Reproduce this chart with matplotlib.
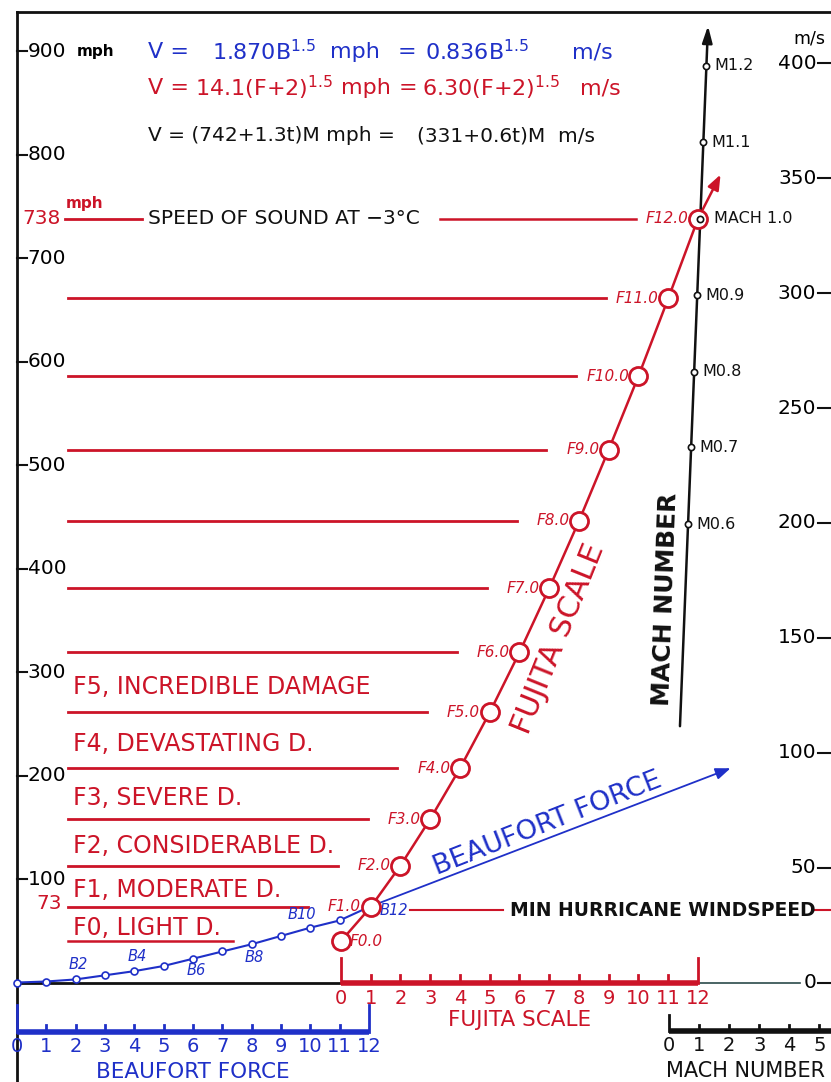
import numpy as np
import matplotlib.pyplot as plt

plt.rcParams['font.family'] = ['DejaVu Sans']

RED = '#cc1428'
BLUE = '#1f30c8'
BLACK = '#111111'

# Fujita-Skala: Stufe -> Windgeschwindigkeit in mph
F_LEVELS = list(range(13))
F_MPH = [40, 73, 113, 158, 207, 261, 319, 381, 446, 515, 586, 661, 738]

# Beaufort-Skala
B_LEVELS = list(range(13))
B_MPH = [0, 1, 3, 7, 11, 16, 23, 30, 37, 45, 53, 60, 73]
B_LABELED = [2, 4, 6, 8, 10, 12]

# Machzahl
MACH = [0.6, 0.7, 0.8, 0.9, 1.0, 1.1, 1.2]
MACH_MPH = [443, 517, 590, 664, 738, 812, 886]
MACH_LABELS = ['M0.6', 'M0.7', 'M0.8', 'M0.9', 'MACH 1.0', 'M1.1', 'M1.2']
MACH_BOTTOM = [0, 1, 2, 3, 4, 5]

# Achsen
MPH_TICKS = [100, 200, 300, 400, 500, 600, 700, 800, 900]
MS_TICKS = [0, 50, 100, 150, 200, 250, 300, 350, 400]
MS_TO_MPH = 2.22

DAMAGE = ['F0, LIGHT D.', 'F1, MODERATE D.', 'F2, CONSIDERABLE D.',
          'F3, SEVERE D.', 'F4, DEVASTATING D.', 'F5, INCREDIBLE DAMAGE']

fig = plt.figure(figsize=(8.31, 10.82), dpi=100)
ax = fig.add_axes([0, 0, 1, 1])
ax.set_xlim(-11.46, 16.47)
ax.set_ylim(-96.1, 949.3)
ax.axis('off')

X_LEFT = -10.89
X_RIGHT = 16.47
Y_TOP = 937.7


def bx(b):
    # Beaufort-Stufe auf die gemeinsame x-Achse
    return X_LEFT + np.asarray(b) * 0.986


def mx(m):
    # Machzahl (untere Skala) auf die gemeinsame x-Achse
    return 11.03 + np.asarray(m) * 1.01


# Rahmen
ax.plot([X_LEFT, X_LEFT], [-96.1, Y_TOP], color=BLACK, lw=2)
ax.plot([X_LEFT, X_RIGHT], [Y_TOP, Y_TOP], color=BLACK, lw=2)

# linke mph-Achse
for v in MPH_TICKS:
    ax.plot([X_LEFT, X_LEFT + 0.33], [v, v], color=BLACK, lw=1.5)
    ax.text(X_LEFT + 0.36, v, str(v), fontsize=14.5, va='center', ha='left')
ax.text(X_LEFT + 2.0, 900, 'mph', fontsize=11, fontweight='bold', va='center', ha='left')

# rechte m/s-Achse
for v in MS_TICKS:
    y = v * MS_TO_MPH
    ax.plot([16.03, X_RIGHT], [y, y], color=BLACK, lw=1.5)
    ax.text(15.98, y, str(v), fontsize=14.5, va='center', ha='right')
ax.text(15.75, 912, 'm/s', fontsize=12.5, va='center', ha='center')

# Formeln
fs = 16
ax.text(-6.49, 899, 'V =', color=BLUE, fontsize=fs, va='center', ha='left')
ax.text(-4.34, 899, r'1.870B$^{1.5}$', color=BLUE, fontsize=fs, va='center', ha='left')
ax.text(-0.37, 899, 'mph', color=BLUE, fontsize=fs, va='center', ha='left')
ax.text(1.92, 899, '=', color=BLUE, fontsize=fs, va='center', ha='left')
ax.text(2.82, 899, r'0.836B$^{1.5}$', color=BLUE, fontsize=fs, va='center', ha='left')
ax.text(7.76, 899, 'm/s', color=BLUE, fontsize=fs, va='center', ha='left')

ax.text(-6.49, 864, 'V =', color=RED, fontsize=fs, va='center', ha='left')
ax.text(-4.9, 864, r'14.1(F+2)$^{1.5}$', color=RED, fontsize=fs, va='center', ha='left')
ax.text(0.0, 864, 'mph', color=RED, fontsize=fs, va='center', ha='left')
ax.text(1.95, 864, '=', color=RED, fontsize=fs, va='center', ha='left')
ax.text(2.72, 864, r'6.30(F+2)$^{1.5}$', color=RED, fontsize=fs, va='center', ha='left')
ax.text(8.03, 864, 'm/s', color=RED, fontsize=fs, va='center', ha='left')

ax.text(-6.49, 818, 'V = (742+1.3t)M mph =', color=BLACK, fontsize=14.5,
        va='center', ha='left')
ax.text(2.55, 818, '(331+0.6t)M  m/s', color=BLACK, fontsize=14.5,
        va='center', ha='left')

# Grenzlinien der Fujita-Stufen
for f, v in zip(F_LEVELS, F_MPH):
    if f == 0:
        ax.plot([-9.18, -3.63], [v, v], color=RED, lw=1.8)
        ax.text(f + 0.3, v, 'F0.0', color=RED, fontsize=11, style='italic',
                va='center', ha='left')
        continue
    if f == 12:
        ax.plot([-9.28, -6.69], [v, v], color=RED, lw=2)
        ax.plot([3.33, f - 2.1], [v, v], color=RED, lw=1.8)
    elif f == 1:
        ax.plot([-9.18, f - 2.1], [v, v], color=RED, lw=2)
        ax.plot([2.32, 5.45], [v - 3, v - 3], color=RED, lw=1.5)
        ax.plot([15.93, X_RIGHT], [v - 3, v - 3], color=RED, lw=1.5)
    else:
        ax.plot([-9.18, f - 2.1], [v, v], color=RED, lw=2)
    ax.text(f - 0.32, v, 'F%d.0' % f, color=RED, fontsize=11, style='italic',
            va='center', ha='right')

ax.text(-10.72, 738, '738', color=RED, fontsize=14.5, va='center', ha='left')
ax.text(-9.25, 753, 'mph', color=RED, fontsize=11, fontweight='bold', va='center', ha='left')
ax.text(-6.49, 738, 'SPEED OF SOUND AT \u22123\u00b0C', color=BLACK, fontsize=14.5,
        va='center', ha='left')
ax.text(-9.38, 76, '73', color=RED, fontsize=14.5, va='center', ha='right')
ax.text(5.68, 70, 'MIN HURRICANE WINDSPEED', color=BLACK, fontsize=13.5,
        fontweight='bold', va='center', ha='left')

# Schadensklassen
for i, name in enumerate(DAMAGE):
    mid = (F_MPH[i] + F_MPH[i + 1]) / 2 - 4
    ax.text(-9.0, mid, name, color=RED, fontsize=17, va='center', ha='left')

# Nulllinie
ax.plot([X_LEFT, 0], [0, 0], color=BLACK, lw=2)
ax.plot([12, 15.43], [0, 0], color='#2a4a4a', lw=1.2)

# Beaufort-Kurve
ax.plot(bx(B_LEVELS), B_MPH, color=BLUE, lw=1.5, marker='o', ms=5,
        mfc='white', mec=BLUE, mew=1.2, zorder=4)
b_offsets = {2: (0.1, 14), 4: (0.1, 14), 6: (0.1, -11), 8: (0.1, -13),
             10: (-0.3, 13), 12: (0.85, -3)}
for b in B_LABELED:
    dx, dy = b_offsets[b]
    ax.text(bx(b) + dx, B_MPH[b] + dy, 'B%d' % b, color=BLUE, fontsize=10.5,
            style='italic', va='center', ha='center')
ax.annotate('', xy=(13.18, 208), xytext=(bx(12), B_MPH[12]),
            arrowprops=dict(arrowstyle='-|>,head_length=0.9,head_width=0.35',
                            color=BLUE, lw=1.3))
ax.text(6.95, 153, 'BEAUFORT FORCE', color=BLUE, fontsize=19.5, rotation=21.5,
        rotation_mode='anchor', va='center', ha='center')

# Fujita-Kurve
ax.annotate('', xy=(12.8, 783), xytext=(F_LEVELS[-1], F_MPH[-1]),
            arrowprops=dict(arrowstyle='-|>,head_length=0.9,head_width=0.35',
                            color=RED, lw=1.8))
ax.plot(F_LEVELS, F_MPH, color=RED, lw=1.8, marker='o', ms=13,
        mfc='white', mec=RED, mew=2, zorder=5)
ax.text(7.3, 332, 'FUJITA SCALE', color=RED, fontsize=22, rotation=68,
        rotation_mode='anchor', va='center', ha='center')

# Mach-Achse
mach_line_y = [245, 927]
mach_line_x = [11.39, 12.34]
ax.annotate('', xy=(mach_line_x[1], mach_line_y[1]),
            xytext=(mach_line_x[0], mach_line_y[0]),
            arrowprops=dict(arrowstyle='-|>,head_length=1.0,head_width=0.3',
                            color=BLACK, lw=1.8))
mach_x = np.interp(MACH_MPH, mach_line_y, mach_line_x)
ax.plot(mach_x, MACH_MPH, ls='none', marker='o', ms=4.5, mfc='white',
        mec=BLACK, mew=1.2, zorder=6)
for x, v, lab in zip(mach_x, MACH_MPH, MACH_LABELS):
    off = 0.45 if lab.startswith('MACH') else 0.28
    ax.text(x + off, v, lab, color=BLACK, fontsize=11.5, va='center', ha='left')
ax.text(10.92, 370, 'MACH NUMBER', color=BLACK, fontsize=18, fontweight='bold',
        rotation=88, va='center', ha='center')

# untere Fujita-Skala
ax.plot([0, 12], [0, 0], color=RED, lw=4, solid_capstyle='butt', zorder=3)
for f in F_LEVELS:
    top = 24 if f in (0, 12) else 7
    ax.plot([f, f], [0, top], color=RED, lw=2)
    ax.text(f, -15, str(f), color=RED, fontsize=14, va='center', ha='center')
ax.text(6.0, -36, 'FUJITA SCALE', color=RED, fontsize=15.5, va='center', ha='center')

# untere Beaufort-Skala
ax.plot([bx(0), bx(12)], [-47.8, -47.8], color=BLUE, lw=4, solid_capstyle='butt')
for b in B_LEVELS:
    top = -22 if b in (0, 12) else -41
    ax.plot([bx(b), bx(b)], [-47.8, top], color=BLUE, lw=2)
    ax.text(bx(b), -62, str(b), color=BLUE, fontsize=14, va='center', ha='center')
ax.text(bx(6), -86.5, 'BEAUFORT FORCE', color=BLUE, fontsize=15.5, va='center', ha='center')

# untere Mach-Skala
ax.plot([mx(0), X_RIGHT], [-47, -47], color=BLACK, lw=4, solid_capstyle='butt')
for m in MACH_BOTTOM:
    top = -31 if m == 0 else -41
    ax.plot([mx(m), mx(m)], [-47, top], color=BLACK, lw=2)
    ax.text(mx(m), -61, str(m), color=BLACK, fontsize=14, va='center', ha='center')
ax.text(mx(0) - 0.1, -85, 'MACH NUMBER', color=BLACK, fontsize=15, va='center', ha='left')

fig.savefig('out.png', dpi=100)
